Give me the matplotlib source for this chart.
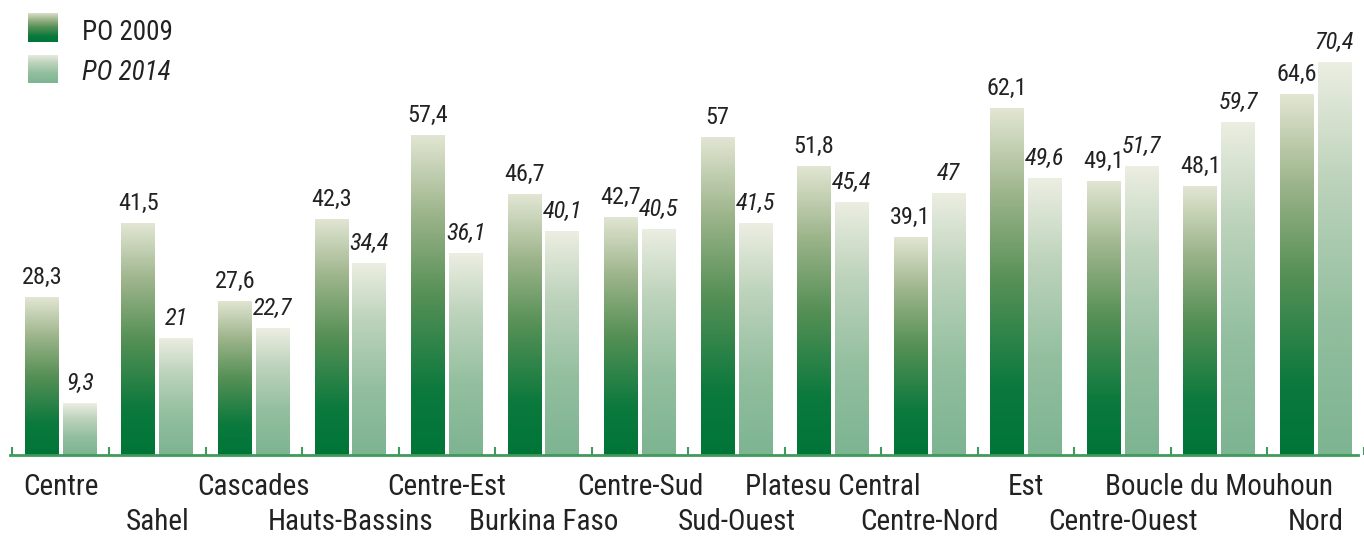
import numpy as np
import matplotlib
matplotlib.use('Agg')
import matplotlib.pyplot as plt
from matplotlib.colors import LinearSegmentedColormap
from matplotlib import rcParams, font_manager

textcolor = '#222222'

# Prefer a narrow face if one is installed.
installed = {f.name for f in font_manager.fontManager.ttflist}
narrow = [f for f in ['Liberation Sans Narrow', 'Roboto Condensed',
                      'Open Sans Condensed', 'DejaVu Sans Condensed']
          if f in installed]
rcParams['font.family'] = narrow + ['DejaVu Sans']
rcParams['font.stretch'] = 'condensed'

# Data.
regions = ["Centre", "Sahel", "Cascades", "Hauts-Bassins", "Centre-Est",
           "Burkina Faso", "Centre-Sud", "Sud-Ouest", "Platesu Central",
           "Centre-Nord", "Est", "Centre-Ouest", "Boucle du Mouhoun", "Nord"]
po_2009 = [28.3, 41.5, 27.6, 42.3, 57.4, 46.7, 42.7, 57, 51.8, 39.1, 62.1, 49.1, 48.1, 64.6]
po_2014 = [9.3, 21, 22.7, 34.4, 36.1, 40.1, 40.5, 41.5, 45.4, 47, 49.6, 51.7, 59.7, 70.4]
series_names = ["PO 2009", "PO 2014"]

# Gradients: bottom -> top.
cmap_2009 = LinearSegmentedColormap.from_list(
    'g09', [(0.0, '#007538'), (0.2, '#0c793d'), (0.5, '#569056'),
            (0.75, '#9cb48a'), (1.0, '#e2e6d3')])
cmap_2014 = LinearSegmentedColormap.from_list(
    'g14', [(0.0, '#7db491'), (0.35, '#93bf9f'), (0.7, '#bdd3bb'), (1.0, '#eceee2')])
grad = np.linspace(0, 1, 256).reshape(-1, 1)

fig = plt.figure(figsize=(13.64, 5.36), dpi=100)
ax = fig.add_axes([0, 81/536, 1, 1 - 81/536])

x = np.arange(len(regions))
width = 0.35
off = 0.196

bars09 = ax.bar(x - off, po_2009, width, color='none', linewidth=0)
bars14 = ax.bar(x + off, po_2014, width, color='none', linewidth=0)


def fill_gradient(bars, cmap):
    for rect in bars.patches:
        x0, y0 = rect.get_x(), rect.get_y()
        w, h = rect.get_width(), rect.get_height()
        im = ax.imshow(grad, cmap=cmap, origin='lower', aspect='auto',
                       extent=(x0, x0 + w, y0, y0 + h), zorder=2)
        im.set_clip_path(rect)


fill_gradient(bars09, cmap_2009)
fill_gradient(bars14, cmap_2014)


def fmt(v):
    return ('%g' % v).replace('.', ',')


for rect, v in zip(bars09.patches, po_2009):
    ax.annotate(fmt(v), (rect.get_x() + rect.get_width()/2, v),
                xytext=(0, 8), textcoords='offset pixels', ha='center',
                va='bottom', fontsize=17.5, color=textcolor)
for rect, v in zip(bars14.patches, po_2014):
    ax.annotate(fmt(v), (rect.get_x() + rect.get_width()/2, v),
                xytext=(0, 8), textcoords='offset pixels', ha='center',
                va='bottom', fontsize=17.5, style='italic', color=textcolor)

# Category labels on two staggered rows.
for i, name in enumerate(regions):
    dy = -32 if i % 2 == 0 else -67
    ax.annotate(name, (i, 0), xycoords=('data', 'axes fraction'),
                xytext=(0, dy), textcoords='offset pixels', ha='center',
                va='center', fontsize=21, color=textcolor, annotation_clip=False)

ax.set_xlim(-0.629, 13.433)
ax.set_ylim(0, 81.5)

for spine in ['top', 'right', 'left']:
    ax.spines[spine].set_visible(False)
ax.spines['bottom'].set_color('#3f9a5c')
ax.spines['bottom'].set_linewidth(2)
ax.spines['bottom'].set_bounds(-0.526, 13.433)
ax.set_xticks(np.arange(len(regions) + 1) - 0.5)
ax.set_xticklabels([])
ax.tick_params(axis='x', direction='in', length=6, width=1.5, color='#3f9a5c')
ax.set_yticks([])

# Legend with gradient swatches.
H = 536.0
W = 1364.0
swatches = [(28, 13, 30, 29, cmap_2009), (28, 55, 30, 28, cmap_2014)]
for (sx, sy, sw, sh, cm), name, ty, st in zip(swatches, series_names, [32.5, 72.5],
                                              ['normal', 'italic']):
    lax = fig.add_axes([sx/W, 1 - (sy + sh)/H, sw/W, sh/H])
    lax.imshow(grad, cmap=cm, origin='lower', aspect='auto')
    lax.axis('off')
    fig.text(82/W, 1 - ty/H, name, ha='left', va='center', fontsize=19.5,
             style=st, color=textcolor)

fig.savefig('out.png', dpi=100)
plt.close()
